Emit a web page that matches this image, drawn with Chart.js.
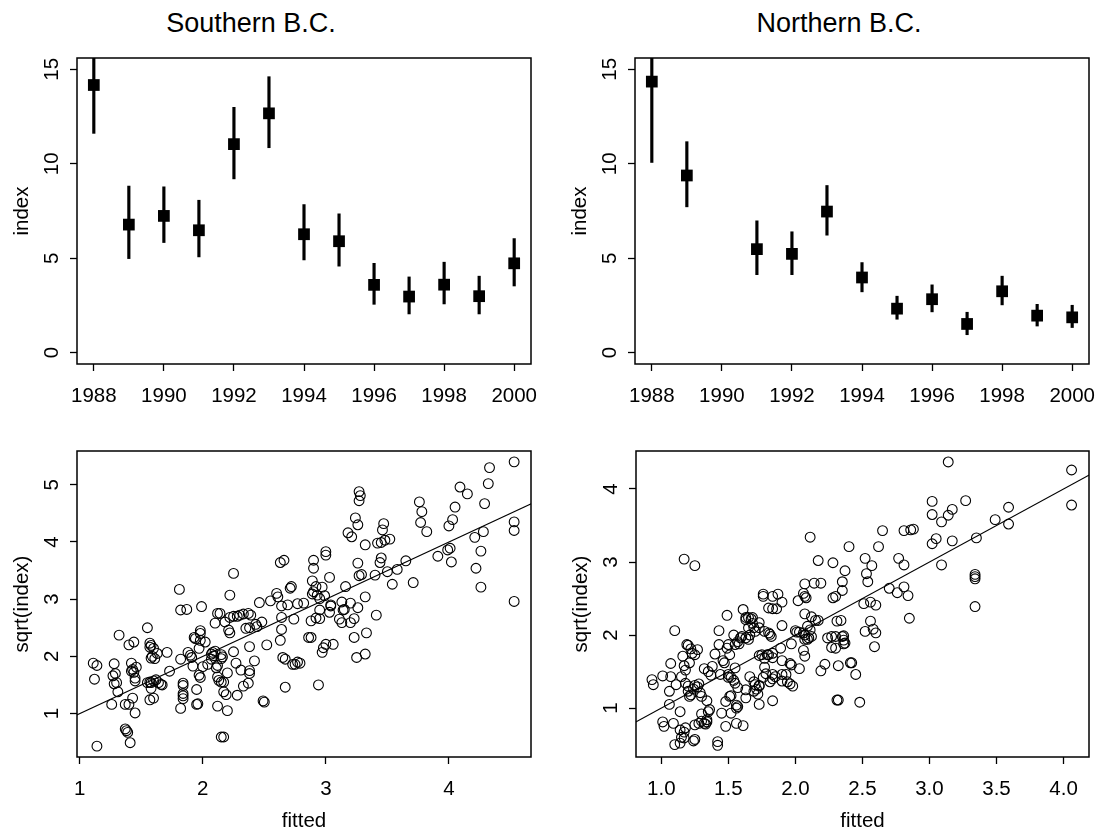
<!DOCTYPE html>
<html>
<head>
<meta charset="utf-8">
<script src="https://cdn.jsdelivr.net/npm/chart.js@4.4.1/dist/chart.umd.min.js"></script>
<style>
  body { margin: 0; background: #fff; }
  #wrap { position: relative; width: 1099px; height: 835px; font-family: "Liberation Sans", Arial, sans-serif; }
  canvas { position: absolute; left: 0; top: 0; }
  .ttl { position: absolute; top: 7px; line-height: 32px; font-size: 27px; color: #000; transform: translateX(-50%); white-space: nowrap; }
</style>
</head>
<body>
<div id="wrap">
  <div class="ttl" style="left:251px">Southern B.C.</div>
  <div class="ttl" style="left:839px">Northern B.C.</div>
  <canvas id="c1" width="1099" height="835"></canvas>
  <canvas id="c2" width="1099" height="835"></canvas>
  <canvas id="c3" width="1099" height="835"></canvas>
  <canvas id="c4" width="1099" height="835"></canvas>
</div>
<script>
// yearly index with interval, top row
const years = [1988, 1989, 1990, 1991, 1992, 1993, 1994, 1995, 1996, 1997, 1998, 1999, 2000];
const southIndex = [14.17, 6.78, 7.24, 6.48, 11.04, 12.67, 6.27, 5.90, 3.59, 2.97, 3.60, 2.99, 4.73];
const southLow   = [11.61, 4.98, 5.83, 5.07, 9.20, 10.85, 4.91, 4.58, 2.56, 2.05, 2.58, 2.05, 3.53];
const southHigh  = [17.1, 8.82, 8.78, 8.07, 12.99, 14.61, 7.84, 7.35, 4.73, 4.01, 4.79, 4.05, 6.04];
const northIndex = [14.35, 9.38, null, 5.48, 5.23, 7.47, 3.98, 2.33, 2.83, 1.52, 3.25, 1.96, 1.87];
const northLow   = [10.07, 7.72, null, 4.13, 4.13, 6.22, 3.22, 1.77, 2.16, 0.95, 2.53, 1.41, 1.33];
const northHigh  = [19.3, 11.17, null, 6.98, 6.40, 8.85, 4.77, 2.99, 3.59, 2.14, 4.05, 2.56, 2.51];
const yearTicks = [1988, 1990, 1992, 1994, 1996, 1998, 2000];
const indexTicks = [0, 5, 10, 15];

// fitted vs sqrt(index), bottom row
const southFitted = [
  1.81,2.25,2.22,2.63,2.66,2.71,2.60,2.61,2.46,2.55,1.99,1.82,1.87,2.64,2.69,2.77,2.82,
  2.12,2.14,2.10,2.18,2.22,2.25,2.28,2.30,2.33,2.37,2.39,2.21,2.22,2.35,2.38,2.43,2.44,2.48,2.64,2.64,2.63,2.74,
  2.65,2.67,2.75,2.79,2.67,2.49,2.50,2.52,2.38,2.42,2.38,2.38,2.27,2.31,2.37,2.33,2.28,2.25,2.20,2.17,2.19,
  2.20,2.12,2.15,2.17,2.15,2.17,2.12,2.13,2.11,2.12,2.07,2.09,2.07,2.08,2.10,2.15,2.16,2.15,2.04,2.00,
  2.02,1.98,1.97,1.98,1.98,1.93,1.94,1.88,1.90,1.91,1.92,1.97,1.98,1.95,1.95,1.96,1.84,1.84,1.84,1.84,
  1.84,1.82,1.82,1.73,1.71,1.63,1.61,1.59,1.58,1.57,1.58,1.57,1.60,1.55,1.62,1.60,1.58,1.57,1.55,1.64,
  1.66,1.67,1.57,1.60,1.58,1.45,1.43,1.40,1.37,1.37,1.38,1.39,1.41,1.45,1.45,1.43,1.42,1.44,1.46,1.42,
  1.44,1.40,1.32,1.31,1.26,1.28,1.29,1.27,1.28,1.30,1.11,1.14,1.12,1.14,
  4.53,4.33,4.32,4.29,4.09,4.15,4.05,4.03,4.00,4.53,4.53,4.28,4.21,4.26,4.22,4.26,4.53,3.99,4.01,4.02,3.91,
  3.76,3.78,3.77,3.82,3.71,3.65,3.58,3.54,3.50,3.40,3.44,3.45,3.26,3.27,3.29,3.32,3.42,3.45,3.48,3.52,
  3.46,3.47,3.18,3.21,3.24,3.26,3.27,3.28,3.27,3.00,3.00,2.90,2.90,3.03,2.89,2.92,2.97,2.90,2.89,2.93,
  2.95,2.99,3.16,3.32,2.72,3.13,3.20,3.04,2.95,3.03,3.04,2.88,2.92,2.95,3.14,3.15,3.26,3.11,3.13,3.20,
  3.23,3.41,3.33,3.23,2.86,2.88,3.00,3.06,2.98,2.97,3.25,3.32,2.73,2.77,2.94
];
const southSqrt = [
  3.17,3.45,3.07,3.64,3.68,3.19,3.10,3.04,2.94,2.97,2.87,2.81,2.82,2.88,2.90,2.92,2.93,
  2.75,2.75,2.58,2.60,2.68,2.70,2.70,2.72,2.74,2.75,2.72,2.46,2.41,2.49,2.50,2.56,2.52,2.60,2.68,2.47,2.28,2.65,
  1.98,1.95,1.86,1.88,1.46,1.22,1.20,2.20,2.17,1.92,1.75,1.70,1.88,1.76,1.53,1.48,1.32,2.08,1.71,1.38,1.33,
  1.05,1.13,0.59,0.59,1.55,1.55,1.64,1.58,1.80,1.84,1.95,2.01,2.04,2.07,2.09,2.03,1.99,1.96,1.86,1.82,
  2.25,2.28,2.14,2.45,2.40,2.33,2.31,2.07,2.02,1.98,1.83,1.67,1.63,1.42,1.16,1.17,1.53,1.49,1.35,1.31,
  1.26,1.09,1.95,1.74,2.07,2.05,1.96,2.00,1.97,2.23,2.19,2.16,2.14,2.50,1.59,1.57,1.54,1.55,1.54,1.54,
  1.51,1.50,1.24,1.27,1.44,1.01,1.27,1.16,1.16,0.73,0.70,0.67,0.49,1.57,1.62,1.77,1.74,1.72,1.81,1.88,
  2.25,2.20,2.37,1.38,1.16,1.87,1.70,1.66,1.52,1.54,1.88,1.84,1.60,0.43,
  5.40,5.30,5.02,4.67,4.96,4.84,4.61,4.39,4.28,4.35,4.20,4.18,4.08,3.84,3.54,3.21,2.96,3.86,3.89,3.65,3.75,
  4.70,4.53,4.34,4.18,3.29,3.67,3.52,3.26,3.48,3.42,3.64,3.72,3.63,3.41,3.43,3.95,3.98,3.99,4.03,4.05,
  4.21,4.32,4.16,4.09,4.42,4.30,4.88,4.81,4.72,3.83,3.77,3.68,3.54,3.38,3.32,3.22,3.21,3.13,3.09,3.07,
  3.01,3.06,3.22,3.04,3.22,2.95,2.93,2.90,2.81,2.77,2.88,2.62,2.67,2.66,2.81,2.82,2.85,2.65,2.59,2.59,
  2.66,2.72,2.41,2.33,2.33,2.33,2.21,2.21,2.15,2.07,1.98,2.04,1.86,1.90,1.50
];
const northFitted = [
  1.17,1.25,2.11,2.17,2.28,2.40,2.37,2.14,2.19,2.35,2.35,2.07,2.28,2.06,2.07,2.08,2.02,1.76,1.76,1.83,
  1.87,1.90,1.61,1.80,1.83,1.86,3.14,4.06,4.06,3.02,3.02,3.27,3.17,3.14,3.09,3.59,3.49,3.59,3.35,3.17,
  3.05,3.02,3.09,3.34,3.34,3.34,3.34,2.65,2.81,2.86,2.88,2.62,2.52,2.57,2.77,2.81,2.53,2.54,2.70,2.76,
  2.81,2.84,2.51,2.56,2.60,2.30,2.85,2.56,2.52,2.58,2.60,2.59,2.42,2.45,2.48,2.32,2.36,2.36,2.36,2.30,
  2.31,2.34,2.30,1.63,1.65,1.68,1.63,1.67,1.49,1.73,1.73,1.90,2.00,2.01,2.03,2.06,2.07,2.09,2.11,2.12,
  2.15,2.17,2.10,2.09,2.07,2.07,2.12,1.97,2.06,2.07,2.03,1.96,1.97,1.90,1.89,1.83,1.83,1.80,1.79,1.75,
  1.73,1.77,1.81,1.82,1.80,1.77,1.68,1.69,1.70,1.66,1.63,1.65,1.60,1.59,1.57,1.55,1.58,1.54,1.65,1.43,
  1.50,1.51,1.49,1.43,1.46,1.47,1.40,1.38,1.37,1.44,1.50,1.50,1.52,1.54,1.55,1.57,1.63,1.63,1.52,1.51,
  1.48,1.56,1.56,1.57,1.45,1.52,1.48,1.56,1.61,1.42,1.42,1.66,1.69,1.70,1.73,1.71,1.69,1.72,1.73,1.73,
  1.77,1.83,1.85,1.81,1.83,1.76,1.78,1.83,1.90,1.94,1.96,1.98,1.90,1.93,1.32,1.35,1.25,1.28,1.27,1.24,
  1.29,1.30,1.34,1.36,1.35,1.34,1.30,1.30,1.32,1.33,1.34,1.28,1.25,1.24,1.25,1.18,1.14,1.15,1.17,1.17,
  1.10,1.09,1.01,1.02,1.14,1.06,1.06,1.11,1.18,1.20,1.20,1.22,1.21,1.15,1.07,1.01,0.93,0.94,1.07,1.17,
  1.18,1.16,1.10,1.19,1.20,1.22,1.23,1.25,1.27,1.21,1.55,2.24,2.27,2.35,2.37,2.27,2.32,2.22,2.19,2.41,
  2.31,1.14
];
const northSqrt = [
  3.04,2.95,3.34,3.02,2.99,3.21,2.88,2.71,2.71,2.73,2.61,2.70,2.51,2.57,2.53,2.51,2.47,2.56,2.53,2.53,
  2.56,2.45,2.35,2.37,2.36,2.36,4.37,4.26,3.78,3.83,3.65,3.84,3.72,3.64,3.55,3.75,3.58,3.52,3.33,3.29,
  3.32,3.25,2.96,2.83,2.80,2.77,2.39,3.43,3.43,3.44,3.45,3.21,3.05,2.95,3.05,2.96,2.84,2.73,2.64,2.58,
  2.66,2.54,2.43,2.45,2.41,2.53,2.23,2.19,2.05,2.08,2.03,1.84,1.62,1.46,1.08,1.11,1.88,1.99,1.93,1.82,
  2.19,2.20,1.98,2.24,2.24,2.24,2.21,2.22,2.27,2.17,2.10,2.13,2.06,2.04,2.04,2.03,2.00,2.12,2.07,1.98,
  2.20,2.20,1.96,1.94,1.94,2.29,2.25,1.88,1.79,1.71,1.54,1.61,1.59,1.65,1.82,1.75,1.69,1.73,1.73,1.73,
  1.72,1.68,2.01,1.98,2.03,2.05,2.16,2.10,2.05,2.00,1.96,1.94,1.98,1.96,1.91,1.87,1.88,2.00,2.10,2.06,
  1.87,1.73,1.82,1.87,1.65,1.62,1.74,1.57,1.45,1.46,1.46,1.42,1.42,1.38,1.34,1.28,1.25,1.14,1.17,1.16,
  1.09,1.04,1.00,1.02,0.93,0.93,0.75,0.79,0.76,0.54,0.49,1.43,1.36,1.32,1.30,1.26,1.23,1.19,1.31,1.05,
  1.56,1.46,1.43,1.36,1.40,1.42,1.47,1.10,1.37,1.36,1.33,1.30,1.46,1.46,1.54,1.50,1.31,1.33,1.29,1.26,
  1.21,1.16,1.10,0.98,0.95,0.84,0.92,0.82,0.79,0.78,0.81,0.79,0.77,0.55,0.57,0.73,0.70,0.60,0.59,0.67,
  0.50,0.79,0.81,0.75,0.95,1.05,1.23,1.32,1.34,1.30,1.23,1.18,1.16,1.43,1.43,1.44,1.39,1.32,1.61,1.58,
  1.52,1.71,2.06,1.87,1.86,1.81,1.75,1.73,1.80,1.62,1.55,1.96,1.98,1.98,1.89,1.83,1.58,1.60,1.51,1.62,
  1.11,0.52
];
const southFitTicks = [1, 2, 3, 4];
const southSqrtTicks = [1, 2, 3, 4, 5];
const northFitTicks = [1.0, 1.5, 2.0, 2.5, 3.0, 3.5, 4.0];
const northSqrtTicks = [1, 2, 3, 4];
const oneToOne = [0, 6]; // y = x reference line

Chart.defaults.font.family = "'Liberation Sans', Arial, sans-serif";
Chart.defaults.font.size = 20.5;
Chart.defaults.color = '#000';
Chart.defaults.animation = false;

const W = 1099, H = 835, YW = 77;

// box around plot region, like R's box()
const frame = {
  id: 'frame',
  afterDatasetsDraw(chart) {
    const a = chart.chartArea, c = chart.ctx;
    c.save();
    c.strokeStyle = '#000';
    c.lineWidth = 1.5;
    c.strokeRect(a.left, a.top, a.right - a.left, a.bottom - a.top);
    c.restore();
  }
};

const tickGrid = { display: true, drawOnChartArea: false, drawTicks: true, tickLength: 7, tickWidth: 1.3, tickColor: '#000', offset: false };

function xAxis(min, max, ticks, fmt, title) {
  return {
    type: 'linear', min, max, offset: false, bounds: 'data',
    afterBuildTicks: s => { s.ticks = ticks.map(v => ({ value: v })); },
    afterFit: s => { s.height = title ? 78 : 70; s.paddingLeft = 0; s.paddingRight = 0; },
    grid: tickGrid,
    border: { display: false },
    ticks: { padding: 13, maxRotation: 0, autoSkip: false, callback: fmt },
    title: title ? { display: true, text: title, padding: { top: 0, bottom: 1 } } : { display: false }
  };
}

function yAxis(min, max, ticks, title, pad) {
  return {
    type: 'linear', min, max, bounds: 'data',
    afterBuildTicks: s => { s.ticks = ticks.map(v => ({ value: v })); },
    afterFit: s => { s.width = YW; s.paddingTop = 0; s.paddingBottom = 0; },
    grid: tickGrid,
    border: { display: false },
    ticks: { padding: pad, minRotation: 90, maxRotation: 90, crossAlign: 'center', autoSkip: false, callback: v => String(v) },
    title: { display: true, text: title, padding: { top: 10, bottom: 0 } }
  };
}

function layoutFor(box, xh) {
  return { padding: { left: box.l - YW, top: box.t, right: W - box.r, bottom: H - box.b - xh } };
}

const common = {
  responsive: false,
  devicePixelRatio: 1,
  events: [],
  plugins: { legend: { display: false }, tooltip: { enabled: false }, title: { display: false } }
};

function indexPanel(id, box, idx, lo, hi) {
  const pts = [], bars = [];
  years.forEach((yr, i) => {
    if (idx[i] == null) return;
    pts.push({ x: yr, y: idx[i] });
    bars.push({ x: yr, y: [lo[i], hi[i]] });
  });
  new Chart(document.getElementById(id), {
    type: 'bar',
    data: {
      datasets: [
        { type: 'scatter', data: pts, pointStyle: 'rect', pointRadius: 8.3, pointBackgroundColor: '#000', pointBorderWidth: 0 },
        { type: 'bar', data: bars, backgroundColor: '#000', borderWidth: 0, barThickness: 2.5 }
      ]
    },
    options: Object.assign({}, common, {
      layout: layoutFor(box, 70),
      scales: {
        x: xAxis(1987.52, 2000.48, yearTicks, v => String(v), null),
        y: yAxis(-0.6, 15.6, indexTicks, 'index', 6)
      }
    }),
    plugins: [frame]
  });
}

function fitPanel(id, box, fx, sy, xr, yr, xt, yt, fmt) {
  const n = Math.min(fx.length, sy.length);
  const pts = [];
  for (let i = 0; i < n; i++) pts.push({ x: fx[i], y: sy[i] });
  new Chart(document.getElementById(id), {
    type: 'scatter',
    data: {
      datasets: [
        { data: pts, pointStyle: 'circle', pointRadius: 4.9, pointBorderWidth: 1.1, pointBorderColor: '#000', pointBackgroundColor: 'rgba(0,0,0,0)' },
        { type: 'line', data: oneToOne.map(v => ({ x: v, y: v })), borderColor: '#000', borderWidth: 1.2, pointRadius: 0, fill: false }
      ]
    },
    options: Object.assign({}, common, {
      layout: layoutFor(box, 78),
      scales: {
        x: xAxis(xr[0], xr[1], xt, fmt, 'fitted'),
        y: yAxis(yr[0], yr[1], yt, 'sqrt(index)', 11.7)
      }
    }),
    plugins: [frame]
  });
}

indexPanel('c1', { l: 77, t: 58, r: 531, b: 364 }, southIndex, southLow, southHigh);
indexPanel('c2', { l: 635, t: 58, r: 1089, b: 364 }, northIndex, northLow, northHigh);
fitPanel('c3', { l: 77, t: 451, r: 531, b: 757 }, southFitted, southSqrt, [0.978, 4.667], [0.24, 5.59], southFitTicks, southSqrtTicks, v => String(v));
fitPanel('c4', { l: 636, t: 451, r: 1089, b: 757 }, northFitted, northSqrt, [0.811, 4.19], [0.33, 4.52], northFitTicks, northSqrtTicks, v => v.toFixed(1));
</script>
</body>
</html>
